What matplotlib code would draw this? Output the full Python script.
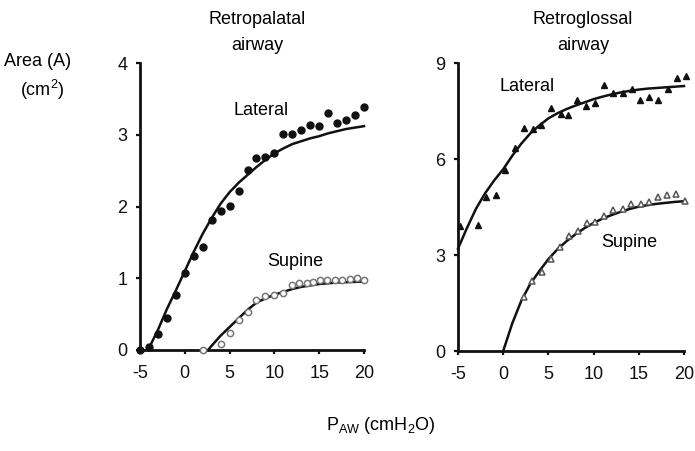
import matplotlib
matplotlib.use("Agg")
import matplotlib.pyplot as plt

plt.rcParams['font.family'] = ['Liberation Sans', 'DejaVu Sans']
plt.rcParams['mathtext.default'] = 'regular'

# ---- Retropalatal airway (left) ----
rp_lat_x = [-5, -4, -3, -2, -1, 0, 1, 2, 3, 4, 5, 6, 7, 8, 9, 10, 11, 12, 13, 14, 15, 16, 17, 18, 19, 20]
rp_lat_y = [0.0, 0.04, 0.22, 0.44, 0.76, 1.07, 1.31, 1.44, 1.81, 1.94, 2.01, 2.22, 2.51, 2.67, 2.69, 2.75,
            3.01, 3.01, 3.06, 3.13, 3.12, 3.31, 3.16, 3.21, 3.28, 3.38]
rp_lat_fit_x = [-4.1, -3, -2, -1, 0, 1, 2, 3, 4, 5, 6, 7, 8, 9, 10, 11, 12, 13, 14, 15, 16, 17, 18, 19, 20]
rp_lat_fit_y = [0.0, 0.28, 0.57, 0.83, 1.10, 1.37, 1.62, 1.84, 2.04, 2.20, 2.33, 2.44, 2.55, 2.65, 2.74,
                2.81, 2.87, 2.91, 2.95, 2.98, 3.02, 3.05, 3.08, 3.10, 3.12]

rp_sup_x = [2, 4, 5, 6, 7, 8, 9, 10, 11, 12, 12.8, 13.6, 14.3, 15.1, 15.9, 16.8, 17.5, 18.4, 19.2, 20]
rp_sup_y = [0.0, 0.09, 0.23, 0.42, 0.53, 0.69, 0.75, 0.76, 0.80, 0.91, 0.93, 0.94, 0.95, 0.98, 0.98, 0.98,
            0.98, 0.99, 1.00, 0.98]
rp_sup_fit_x = [2.6, 3, 4, 5, 6, 7, 8, 9, 10, 11, 12, 13, 14, 15, 16, 17, 18, 19, 20]
rp_sup_fit_y = [0.0, 0.06, 0.20, 0.32, 0.44, 0.56, 0.66, 0.72, 0.77, 0.81, 0.85, 0.88, 0.90, 0.92, 0.93,
                0.94, 0.945, 0.95, 0.955]

# ---- Retroglossal airway (right) ----
rg_lat_x = [-4.8, -2.8, -1.9, -0.8, 0.2, 1.3, 2.3, 3.3, 4.2, 5.3, 6.4, 7.2, 8.2, 9.2, 10.1, 11.2, 12.2,
            13.2, 14.2, 15.1, 16.1, 17.1, 18.2, 19.2, 20.2]
rg_lat_y = [3.92, 3.94, 4.82, 4.87, 5.67, 6.33, 6.96, 6.95, 7.06, 7.60, 7.40, 7.38, 7.84, 7.67, 7.74, 8.31,
            8.06, 8.06, 8.20, 7.84, 7.94, 7.83, 8.18, 8.52, 8.59]
rg_lat_fit_x = [-5, -4, -3, -2, -1, 0, 1, 2, 3, 4, 5, 6, 7, 8, 9, 10, 11, 12, 13, 14, 15, 16, 17, 18, 19, 20]
rg_lat_fit_y = [3.20, 3.85, 4.45, 4.93, 5.33, 5.68, 6.10, 6.48, 6.80, 7.05, 7.27, 7.43, 7.56, 7.67, 7.77,
                7.87, 7.95, 8.02, 8.08, 8.13, 8.17, 8.20, 8.22, 8.24, 8.26, 8.28]

rg_sup_x = [2.3, 3.2, 4.3, 5.3, 6.3, 7.3, 8.3, 9.3, 10.2, 11.2, 12.2, 13.2, 14.1, 15.2, 16.1, 17.1, 18.1,
            19.1, 20.1]
rg_sup_y = [1.70, 2.20, 2.48, 2.87, 3.25, 3.60, 3.75, 3.99, 4.04, 4.22, 4.41, 4.45, 4.58, 4.58, 4.67, 4.80,
            4.87, 4.90, 4.68]
rg_sup_fit_x = [0, 1, 2, 3, 4, 5, 6, 7, 8, 9, 10, 11, 12, 13, 14, 15, 16, 17, 18, 19, 20]
rg_sup_fit_y = [0.0, 0.86, 1.57, 2.10, 2.50, 2.87, 3.18, 3.43, 3.65, 3.84, 4.00, 4.14, 4.25, 4.35, 4.44,
                4.51, 4.56, 4.60, 4.63, 4.66, 4.68]

x_ticks = [-5, 0, 5, 10, 15, 20]
rp_y_ticks = [0, 1, 2, 3, 4]
rg_y_ticks = [0, 3, 6, 9]

W, H = 695, 451
fig = plt.figure(figsize=(W / 100, H / 100), dpi=100)
axL = fig.add_axes([140 / W, 1 - 350 / H, 224 / W, 287 / H])
axR = fig.add_axes([458 / W, 1 - 351 / H, 226 / W, 288 / H])

FS = 13
for ax in (axL, axR):
    for s in ('top', 'right'):
        ax.spines[s].set_visible(False)
    for s in ('left', 'bottom'):
        ax.spines[s].set_linewidth(2.0)
        ax.spines[s].set_color('#111111')
    ax.tick_params(axis='both', direction='out', length=3, width=1.6, labelsize=FS, colors='#111111')
    ax.tick_params(axis='x', pad=8)
    ax.tick_params(axis='y', pad=6)
    ax.set_xlim(-5, 20)
    ax.set_xticks(x_ticks)
    ax.set_xticklabels([str(t) for t in x_ticks])
    ax.patch.set_alpha(0)

# Left panel
axL.set_ylim(0, 4)
axL.set_yticks(rp_y_ticks)
axL.plot(rp_lat_fit_x, rp_lat_fit_y, color='#111111', lw=1.8, clip_on=False, zorder=3)
axL.plot(rp_sup_fit_x, rp_sup_fit_y, color='#111111', lw=1.8, clip_on=False, zorder=3)
axL.plot(rp_lat_x, rp_lat_y, 'o', ms=5, color='#111111', mec='#111111', clip_on=False, zorder=4)
axL.plot(rp_sup_x, rp_sup_y, 'o', ms=4.5, mfc='white', mec='#777777', mew=1.1, clip_on=False, zorder=4)
axL.text(8.5, 3.34, 'Lateral', fontsize=FS, ha='center', va='center')
axL.text(12.3, 1.23, 'Supine', fontsize=FS, ha='center', va='center')

# Right panel
axR.set_ylim(0, 9)
axR.set_yticks(rg_y_ticks)
axR.plot(rg_lat_fit_x, rg_lat_fit_y, color='#111111', lw=1.8, clip_on=False, zorder=3)
axR.plot(rg_sup_fit_x, rg_sup_fit_y, color='#111111', lw=1.8, clip_on=False, zorder=3)
axR.plot(rg_lat_x, rg_lat_y, '^', ms=5, color='#111111', clip_on=False, zorder=4)
axR.plot(rg_sup_x, rg_sup_y, '^', ms=5, mfc='white', mec='#555555', mew=1.1, clip_on=False, zorder=4)
axR.text(2.6, 8.28, 'Lateral', fontsize=FS, ha='center', va='center')
axR.text(13.9, 3.40, 'Supine', fontsize=FS, ha='center', va='center')

# Titles
fig.text(257 / W, 1 - 20 / H, 'Retropalatal', fontsize=FS, ha='center', va='center')
fig.text(257 / W, 1 - 45 / H, 'airway', fontsize=FS, ha='center', va='center')
fig.text(583 / W, 1 - 20 / H, 'Retroglossal', fontsize=FS, ha='center', va='center')
fig.text(583 / W, 1 - 45 / H, 'airway', fontsize=FS, ha='center', va='center')

# Y label
fig.text(38 / W, 1 - 62 / H, 'Area (A)', fontsize=FS, ha='center', va='center')
fig.text(42 / W, 1 - 90 / H, '(cm$^{2}$)', fontsize=FS, ha='center', va='center')

# X label
fig.text(381 / W, 1 - 425 / H, 'P$_{AW}$ (cmH$_{2}$O)', fontsize=FS, ha='center', va='center')

fig.savefig('out.png', dpi=100)
